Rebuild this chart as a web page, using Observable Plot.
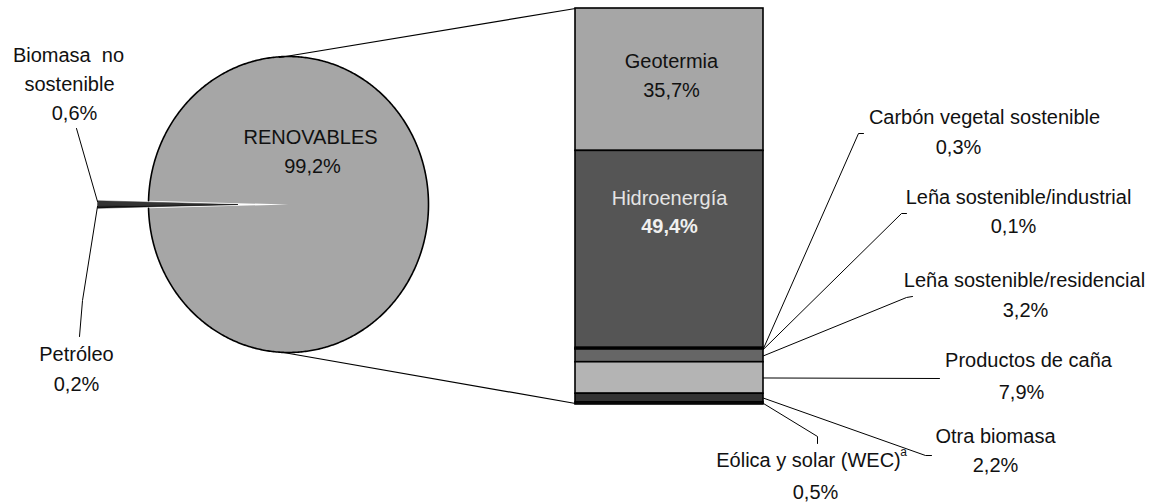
<!DOCTYPE html>
<html>
<head>
<meta charset="utf-8">
<script src="https://cdn.jsdelivr.net/npm/d3@7"></script>
<script src="https://cdn.jsdelivr.net/npm/@observablehq/plot@0.6"></script>
<style>
  html, body { margin: 0; padding: 0; background: #fff; }
  #chart svg { display: block; }
</style>
</head>
<body>
<div id="chart"></div>
<script>
// ---------- DATA ----------
const pieCategories = ["RENOVABLES", "Biomasa no sostenible", "Petróleo"];
const pieValues = [99.2, 0.6, 0.2];
const pieColors = ["#a6a6a6", "#333333", "#111111"];

const barCategories = [
  "Geotermia", "Hidroenergía", "Carbón vegetal sostenible",
  "Leña sostenible/industrial", "Leña sostenible/residencial",
  "Productos de caña", "Otra biomasa", "Eólica y solar (WEC)"
];
const barValues = [35.7, 49.4, 0.3, 0.1, 3.2, 7.9, 2.2, 0.5];
const barColors = ["#a6a6a6", "#555555", "#4a4a4a", "#444444", "#666666", "#b4b4b4", "#333333", "#222222"];

const fmt = v => d3.format(".1f")(v).replace(".", ",") + "%";

// ---------- LAYOUT ----------
const W = 1151, H = 502;
const pie = {cx: 288, cy: 204, rx: 140, ry: 148, explode: 51};
const bar = {x1: 575, x2: 763, top: 8, bottom: 404};

// pie geometry (angles from values)
const total = d3.sum(pieValues);
const smallTotal = pieValues[1] + pieValues[2];
const TAU = 2 * Math.PI;
const start0 = Math.PI - (smallTotal / total) * TAU / 2;
const order = [2, 1, 0];
let acc = start0;
const slices = [];
for (const i of order) {
  const a0 = acc, a1 = acc + pieValues[i] / total * TAU;
  acc = a1;
  slices[i] = {a0, a1, exploded: i !== 0};
}
function slicePoints(s, i) {
  const dx = s.exploded ? -pie.explode : 0;
  const cx = pie.cx + dx, cy = pie.cy;
  const n = Math.max(4, Math.ceil((s.a1 - s.a0) / 0.01));
  const pts = [{x: cx, y: cy, k: i}];
  for (let j = 0; j <= n; j++) {
    const a = s.a0 + (s.a1 - s.a0) * j / n;
    pts.push({x: cx + pie.rx * Math.cos(a), y: cy + pie.ry * Math.sin(a), k: i});
  }
  pts.push({x: cx, y: cy, k: i});
  return pts;
}
const slicePolys = slices.map((s, i) => slicePoints(s, i));
const mainArc = slicePolys[0].slice(1, -1);

// bar geometry
const yBar = d3.scaleLinear().domain([0, d3.sum(barValues)]).range([bar.top, bar.bottom]);
let cum = 0;
const barRows = barCategories.map((c, i) => {
  const r = {cat: c, v: barValues[i], y1: yBar(cum), y2: yBar(cum + barValues[i]), fill: barColors[i]};
  cum += barValues[i];
  r.mid = (r.y1 + r.y2) / 2;
  return r;
});

const connectors = [
  [{x: 279, y: pie.cy - pie.ry + 1}, {x: bar.x1, y: bar.top}],
  [{x: 283, y: pie.cy + pie.ry}, {x: bar.x1, y: bar.bottom - 1}]
];

const barLeaders = {
  2: [[858, 133], [863, 133]],
  3: [[901, 213], [906, 213]],
  4: [[906, 297], [912, 296]],
  5: [[939, 378]],
  6: [[925, 455], [931, 455]],
  7: [[817, 436], [817, 443]]
};
const leaderLines = [];
for (const k in barLeaders) {
  const pts = [{x: bar.x2, y: barRows[k].mid, k}];
  for (const [x, y] of barLeaders[k]) pts.push({x, y, k});
  leaderLines.push(pts);
}
const tipX = pie.cx - pie.explode - pie.rx;
leaderLines.push([{x: tipX, y: pie.cy - 3}, {x: 76, y: 128}]);
leaderLines.push([{x: tipX, y: pie.cy + 2}, {x: 82, y: 300}, {x: 79, y: 336}]);

const nameLabels = [
  {t: "Geotermia", x: 671, y: 61},
  {t: fmt(barValues[0]), x: 671, y: 90},
  {t: "RENOVABLES", x: 310, y: 137},
  {t: fmt(pieValues[0]), x: 312, y: 166},
  {t: "Biomasa  no", x: 68, y: 55},
  {t: "sostenible", x: 69, y: 84},
  {t: fmt(pieValues[1]), x: 74, y: 113},
  {t: pieCategories[2], x: 76, y: 354},
  {t: fmt(pieValues[2]), x: 76, y: 384},
  {t: barCategories[2], x: 984, y: 117},
  {t: fmt(barValues[2]), x: 958, y: 147},
  {t: barCategories[3], x: 1018, y: 197},
  {t: fmt(barValues[3]), x: 1013, y: 226},
  {t: barCategories[4], x: 1024, y: 280},
  {t: fmt(barValues[4]), x: 1025, y: 310},
  {t: barCategories[5], x: 1028, y: 360},
  {t: fmt(barValues[5]), x: 1021, y: 392},
  {t: barCategories[6], x: 995, y: 436},
  {t: fmt(barValues[6]), x: 995, y: 465},
  {t: barCategories[7], x: 808, y: 460},
  {t: fmt(barValues[7]), x: 815, y: 492}
];
const hydroLabels = [
  {t: "Hidroenergía", x: 669, y: 198, w: "normal"},
  {t: fmt(barValues[1]), x: 669, y: 226, w: "bold"}
];

const marks = [];
marks.push(Plot.line(slicePolys[0], {x: "x", y: "y", fill: pieColors[0], stroke: null, curve: "linear"}));
marks.push(Plot.line(mainArc, {x: "x", y: "y", stroke: "#000", strokeWidth: 1.6, curve: "linear"}));
marks.push(Plot.line(slicePolys[1], {x: "x", y: "y", fill: pieColors[1], stroke: pieColors[1], strokeWidth: 0.5, curve: "linear"}));
marks.push(Plot.line(slicePolys[2], {x: "x", y: "y", fill: pieColors[2], stroke: pieColors[2], strokeWidth: 0.5, curve: "linear"}));
for (const c of connectors) marks.push(Plot.line(c, {x: "x", y: "y", stroke: "#000", strokeWidth: 1.2}));
marks.push(Plot.rect(barRows, {x1: () => bar.x1, x2: () => bar.x2, y1: "y1", y2: "y2", fill: "fill", stroke: "#000", strokeWidth: 1.6}));
for (const l of leaderLines) marks.push(Plot.line(l, {x: "x", y: "y", stroke: "#000", strokeWidth: 1}));
marks.push(Plot.text(nameLabels, {
  x: "x", y: "y", text: "t", fill: "#111",
  fontSize: 20, textAnchor: "middle", lineAnchor: "middle"
}));
marks.push(Plot.text(hydroLabels.slice(0, 1), {
  x: "x", y: "y", text: "t", fill: "#e4e4e4",
  fontSize: 20, textAnchor: "middle", lineAnchor: "middle"
}));
marks.push(Plot.text(hydroLabels.slice(1), {
  x: "x", y: "y", text: "t", fill: "#f0f0f0", fontWeight: "bold",
  fontSize: 20, textAnchor: "middle", lineAnchor: "middle"
}));
marks.push(Plot.text([{t: "a", x: 903, y: 452}], {x: "x", y: "y", text: "t", fontSize: 12, fill: "#111", textAnchor: "middle"}));

const chart = Plot.plot({
  width: W, height: H, margin: 0,
  x: {type: "linear", domain: [0, W], range: [0, W], axis: null},
  y: {type: "linear", domain: [0, H], range: [0, H], axis: null},
  color: {type: "identity"},
  style: {fontFamily: "'Liberation Sans', Arial, sans-serif", background: "#fff"},
  marks
});
document.getElementById("chart").appendChild(chart);
</script>
</body>
</html>
